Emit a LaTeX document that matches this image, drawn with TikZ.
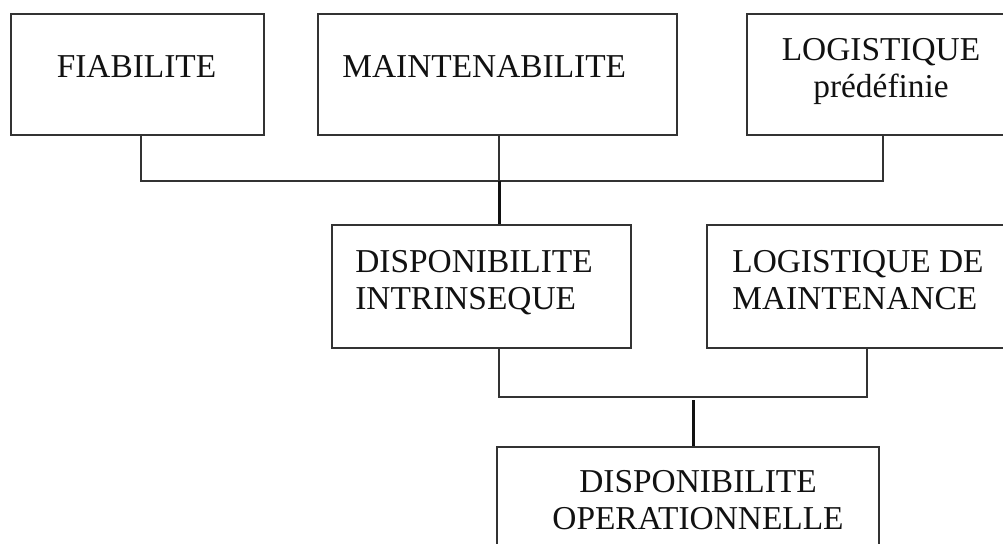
\documentclass[tikz,border=0pt]{standalone}
\usepackage{fontspec}
\setmainfont{Liberation Serif}
\usetikzlibrary{positioning,calc}
\definecolor{ADInk}{HTML}{111111}
\definecolor{ADLine}{HTML}{333333}
\tikzset{
  box/.style={draw=ADLine,line width=0.6pt,inner sep=0pt},
  boxtxt/.style={text=ADInk,inner sep=0pt,font=\fontsize{19}{21}\selectfont},
  link/.style={ADLine,line width=0.6pt},
  linkthick/.style={link,draw=ADInk,line width=1.7pt},
}

\begin{document}
\begin{tikzpicture}[x=0.2mm,y=-0.2mm]
    \clip (0,0) rectangle (1003,543);
    % top row
    \node[box,minimum width=50.6mm,minimum height=24.2mm] (fiab)   at (137.5,74.5) {};
    \node[box,minimum width=71.8mm,minimum height=24.2mm] (maint)  at (497.5,74.5) {};
    \node[box,minimum width=52.6mm,minimum height=24.2mm] (logpre) at (878.5,74.5) {};
    \node[boxtxt,anchor=base]      (fiabtxt)   at (136.5,77) {FIABILITE};
    \node[boxtxt,anchor=base west] (mainttxt)  at (342,77)   {MAINTENABILITE};
    \node[boxtxt,align=center,anchor=base] (logpretxt) at (881,97) {LOGISTIQUE\\prédéfinie};

    % middle row
    \node[box,minimum width=59.8mm,minimum height=24.6mm] (dintr)    at (481.5,286.5) {};
    \node[box,minimum width=60.6mm,minimum height=24.6mm] (logmaint) at (858.5,286.5) {};
    \node[boxtxt,align=left,anchor=base west] (dintrtxt)    at (355,309) {DISPONIBILITE\\INTRINSEQUE};
    \node[boxtxt,align=left,anchor=base west] (logmainttxt) at (732,309) {LOGISTIQUE DE\\MAINTENANCE};

    % bottom
    \node[box,minimum width=76.4mm,minimum height=24.6mm] (dop) at (688,508.5) {};
    \node[boxtxt,align=center,anchor=base] (doptxt) at (698,529) {DISPONIBILITE\\OPERATIONNELLE};

    \coordinate (jtop) at (499,181);
    \coordinate (jbot) at (693,397);

    \draw[link] ([xshift=0.7mm]fiab.south) |- (jtop) -| ([xshift=0.9mm]logpre.south);
    \draw[link] (maint.south -| jtop) -- (jtop);
    \draw[linkthick] (jtop) -- (jtop |- dintr.north);
    \draw[link] (dintr.south -| jtop) |- (jbot) -| ([xshift=1.7mm]logmaint.south);
    \draw[linkthick] ([yshift=-0.6mm]jbot) -- (jbot |- dop.north);
  \end{tikzpicture}
\end{document}
